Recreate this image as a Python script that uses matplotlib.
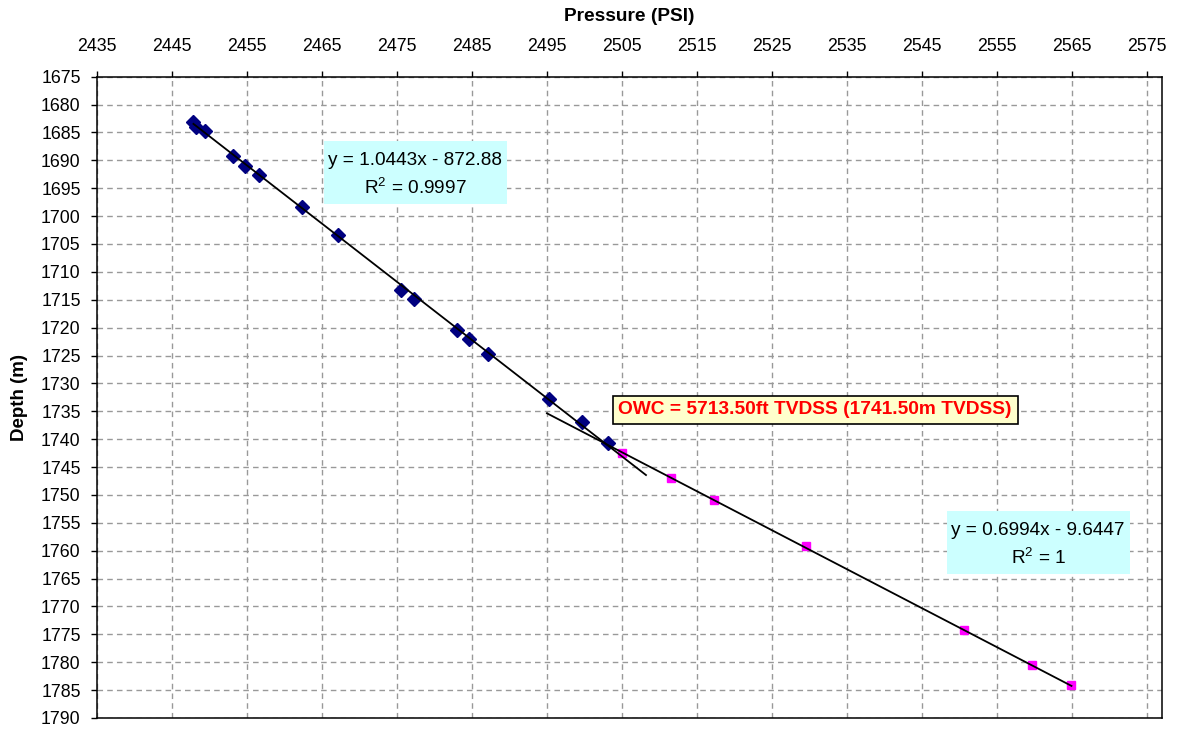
import numpy as np
import matplotlib
matplotlib.use("Agg")
from matplotlib import pyplot as plt
from matplotlib.patches import Rectangle

# pressure (psi) / depth (m) readings, oil leg and water leg
oil_pressure = [2447.9, 2448.2, 2449.4, 2453.2, 2454.8, 2456.6, 2462.4, 2467.2,
                2475.5, 2477.3, 2483.0, 2484.6, 2487.1, 2495.3, 2499.7, 2503.2]
oil_depth = [1683.1, 1684.0, 1684.7, 1689.2, 1691.1, 1692.7, 1698.4, 1703.3,
             1713.2, 1714.8, 1720.5, 1722.0, 1724.7, 1732.8, 1737.0, 1740.7]

water_pressure = [2505.0, 2511.5, 2517.2, 2529.5, 2550.6, 2559.6, 2564.9]
water_depth = [1742.4, 1746.9, 1750.9, 1759.2, 1774.3, 1780.5, 1784.0]

# linear trendlines (depth = slope * pressure + intercept)
oil_slope, oil_intercept, oil_r2 = 1.0443, -872.88, "0.9997"
water_slope, water_intercept, water_r2 = 0.6994, -9.6447, "1"
oil_forecast_fwd = 5     # psi past last oil point
water_forecast_back = 10  # psi before first water point

owc_label = "OWC = 5713.50ft TVDSS (1741.50m TVDSS)"

x_ticks = np.arange(2435, 2576, 10)
y_ticks = np.arange(1675, 1791, 5)

plt.rcParams['font.family'] = ['Liberation Sans', 'DejaVu Sans']
plt.rcParams['mathtext.fontset'] = 'custom'
plt.rcParams['mathtext.rm'] = 'Liberation Sans'

fig = plt.figure(figsize=(11.8, 7.29), dpi=100)
ax = fig.add_axes([0.0819, 0.0151, 0.9031, 0.8797])

ax.set_xlim(2435, 2577)
ax.set_ylim(1790, 1675)
ax.set_xticks(x_ticks)
ax.set_yticks(y_ticks)
ax.xaxis.tick_top()
ax.xaxis.set_label_position('top')
ax.tick_params(axis='x', direction='out', length=4.5, width=1, pad=11, labelsize=12.8)
ax.tick_params(axis='y', direction='out', length=4.5, width=1, pad=7, labelsize=12.8)
for s in ax.spines.values():
    s.set_color('black')
    s.set_linewidth(1.1)

ax.grid(True, color='#999999', linestyle=(0, (4, 3)), linewidth=1)
ax.set_axisbelow(True)

ax.set_xlabel("Pressure (PSI)", fontsize=13.8, fontweight='bold', labelpad=12)
ax.set_ylabel("Depth (m)", fontsize=13.5, fontweight='bold', labelpad=9)

# points
ax.plot(oil_pressure, oil_depth, linestyle='none', marker='D', markersize=7,
        color='#000080', zorder=3)
ax.plot(water_pressure, water_depth, linestyle='none', marker='s', markersize=6.3,
        color='#FF00FF', zorder=3)

# trendlines
xo = np.array([min(oil_pressure), max(oil_pressure) + oil_forecast_fwd])
ax.plot(xo, oil_slope * xo + oil_intercept, color='black', lw=1.3, zorder=4)
xw = np.array([min(water_pressure) - water_forecast_back, max(water_pressure)])
ax.plot(xw, water_slope * xw + water_intercept, color='black', lw=1.3, zorder=4)

# trendline equation labels on cyan panels
eq_labels = [
    ((0.2133, 0.8015), f"y = {oil_slope:.4f}x - {abs(oil_intercept):.2f}\nR$^2$ = {oil_r2}"),
    ((0.7977, 0.2245), f"y = {water_slope:.4f}x - {abs(water_intercept):.4f}\nR$^2$ = {water_r2}"),
]
box_w, box_h = 0.1716, 0.0982
for (bx, by), txt in eq_labels:
    ax.add_patch(Rectangle((bx, by), box_w, box_h, transform=ax.transAxes,
                           facecolor='#CCFFFF', edgecolor='none', zorder=5))
    ax.text(bx + box_w / 2, by + box_h / 2 - 0.004, txt, transform=ax.transAxes,
            ha='center', va='center', fontsize=13.7, linespacing=1.45, zorder=6)

ax.text(0.6741, 0.4803, owc_label, transform=ax.transAxes, ha='center', va='center',
        fontsize=13.8, fontweight='bold', color='#FF0000', zorder=6,
        bbox=dict(boxstyle='square,pad=0.3', facecolor='#FFFFCC',
                  edgecolor='black', linewidth=1.2))

fig.savefig("out.png", dpi=100)
